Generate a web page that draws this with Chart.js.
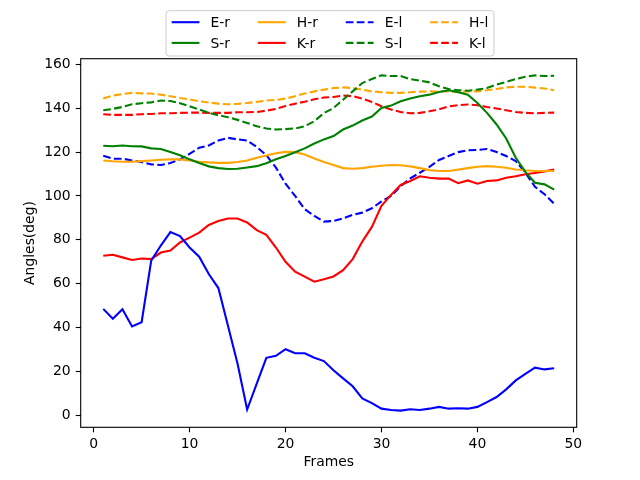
<!DOCTYPE html>
<html>
<head>
<meta charset="utf-8">
<script src="https://cdn.jsdelivr.net/npm/chart.js@4.4.1/dist/chart.umd.min.js"></script>
<style>html,body{margin:0;padding:0;background:#fff}</style>
</head>
<body>
<canvas id="c" width="640" height="480" style="width:640px;height:480px"></canvas>
<script>
// joint angles per frame
const frames = [1,2,3,4,5,6,7,8,9,10,11,12,13,14,15,16,17,18,19,20,21,22,23,24,25,26,27,28,29,30,31,32,33,34,35,36,37,38,39,40,41,42,43,44,45,46,47,48];

const eR = [48.5,44,48.3,40.5,42.4,70.5,77.4,83.5,81.7,76.5,72.3,64.4,58,40.8,23.5,2.6,14.4,26.2,27.1,30.1,28.3,28.3,26.2,24.7,20.5,16.8,13.2,7.7,5.5,3,2.4,2.1,2.7,2.4,3,3.8,3,3.2,3,3.8,6,8.3,11.8,15.9,18.9,21.7,20.9,21.4];
const sR = [122.9,122.7,123,122.7,122.6,121.7,121.4,120,118.6,116.7,115,113.5,112.7,112.3,112.4,113,113.6,114.9,116.7,118.2,119.9,121.7,123.9,125.8,127.3,130.3,132.1,134.4,136.2,140.1,141.2,143.2,144.4,145.5,146.2,147.4,148.2,147.3,146.2,142.4,137.9,132.6,126.2,117.4,111,106,105.3,102.9];
const hR = [116.2,115.8,115.6,115.6,115.9,116.2,116.5,116.7,116.7,116.2,115.6,115.3,115.1,115.1,115.5,116.2,117.4,118.5,119.5,120.1,120,118.9,117.1,115.5,114.1,112.7,112.4,112.7,113.3,113.8,114.1,114,113.5,112.7,111.8,111.4,111.4,112,112.7,113.3,113.6,113.3,112.9,112.1,111.7,111.4,111.4,111.4];
const kR = [72.7,73.2,72,70.8,71.5,71.2,74.2,75.1,78.8,81,83.3,86.8,88.6,89.7,89.7,87.9,84.4,82.3,76.5,70,65.5,63.2,60.9,62,63.3,66.2,71.2,79.2,85.9,95.5,100.5,105,106.8,109,108.3,107.9,107.9,105.8,107.1,105.6,106.8,107.1,108.3,109,109.9,110.5,111.2,112];
const eL = [118.3,117,117,116.2,115.5,114.4,114.1,115,116.7,119.2,122,123,125.3,126.5,125.8,125.3,122.3,118.6,112.9,105.6,100,94,90.9,88.3,88.6,89.8,91.4,92.4,94.4,97.5,100,104.5,108,110.6,113.3,116.4,118.2,120,120.8,121,121.4,120,118.2,115.9,110.6,104.2,100.8,96.5];
const sL = [139.1,139.7,140.6,141.8,142.3,142.7,143.5,143.3,142.3,140.9,139.4,137.9,136.8,135.9,134.7,133.3,131.8,130.8,130.3,130.5,130.8,131.8,134.1,137.8,140.1,143.9,147.7,151.5,153.3,155,154.7,154.7,153.3,152.6,151.8,150,148.8,148.2,148,148.5,149.2,150.8,152,153.3,154.4,155,154.7,154.8];
const hL = [144.5,145.8,146.5,147,146.8,146.7,146.2,145.5,144.7,144,143.2,142.6,142.1,141.8,142,142.4,142.9,143.5,143.8,144.4,145.5,146.7,147.7,148.5,149.2,149.5,149.2,148.5,147.7,147.3,147,147,147.3,147.6,147.7,147.6,147.7,147.4,147.7,147.7,148.2,148.8,149.5,149.8,149.8,149.4,149,148.2];
const kL = [137.3,137,137,137,137.3,137.4,137.7,137.7,137.9,138,138,137.9,137.9,137.9,138.2,138.2,138.3,138.9,139.7,141,142.1,143,144.1,144.9,145.1,145.8,145.5,144.4,142.9,140.9,139.4,138.3,137.7,137.9,138.6,139.5,140.8,141.4,141.7,141.4,140.6,139.9,139.1,138.3,137.9,137.7,137.9,138];

const xTicks = [0,10,20,30,40,50];
const yTicks = [0,20,40,60,80,100,120,140,160];

const FONT = "'DejaVu Sans', sans-serif";
const FS = 13.9;
const DASH = [7.7, 3.3];

function series(label, values, color, dashed) {
  return {
    label: label,
    data: frames.map((f, i) => ({x: f, y: values[i]})),
    borderColor: color,
    backgroundColor: color,
    borderWidth: 2.1,
    borderDash: dashed ? DASH : [],
    pointRadius: 0,
    tension: 0,
    fill: false
  };
}

// same order as the matplotlib legend (column-major, 4 columns)
const datasets = [
  series('E-r', eR, '#0000ff', false),
  series('S-r', sR, '#008000', false),
  series('H-r', hR, '#ffa500', false),
  series('K-r', kR, '#ff0000', false),
  series('E-l', eL, '#0000ff', true),
  series('S-l', sL, '#008000', true),
  series('H-l', hL, '#ffa500', true),
  series('K-l', kL, '#ff0000', true)
];

// axes box on all four sides
const frameBox = {
  id: 'frameBox',
  afterDatasetsDraw(chart) {
    const a = chart.chartArea, ctx = chart.ctx;
    ctx.save();
    ctx.strokeStyle = '#000';
    ctx.lineWidth = 1.1;
    ctx.setLineDash([]);
    ctx.strokeRect(a.left, a.top, a.right - a.left, a.bottom - a.top);
    ctx.restore();
  }
};

// legend drawn like matplotlib: ncol=4, upper center above the axes
const mplLegend = {
  id: 'mplLegend',
  afterDraw(chart) {
    const ctx = chart.ctx;
    const ds = chart.data.datasets;
    const ncol = 4, nrow = 2;
    const handle = 27.8, tpad = 11.1, cspace = 27.8, bpad = 5.6;
    ctx.save();
    ctx.font = FS + 'px ' + FONT;
    const colW = [];
    for (let c = 0; c < ncol; c++) {
      let w = 0;
      for (let r = 0; r < nrow; r++) {
        const d = ds[c * nrow + r];
        if (d) w = Math.max(w, ctx.measureText(d.label).width);
      }
      colW.push(handle + tpad + w);
    }
    const total = colW.reduce((s, w) => s + w, 0) + cspace * (ncol - 1) + 2 * bpad;
    const cx = 330;
    const left = cx - total / 2, top = 10.7, height = 45.3;
    // box
    ctx.beginPath();
    const rr = 3;
    ctx.moveTo(left + rr, top);
    ctx.arcTo(left + total, top, left + total, top + height, rr);
    ctx.arcTo(left + total, top + height, left, top + height, rr);
    ctx.arcTo(left, top + height, left, top, rr);
    ctx.arcTo(left, top, left + total, top, rr);
    ctx.closePath();
    ctx.fillStyle = 'rgba(255,255,255,0.8)';
    ctx.fill();
    ctx.strokeStyle = '#cccccc';
    ctx.lineWidth = 1;
    ctx.stroke();
    const rowY = [top + 11.5, top + 32.2];
    let x = left + bpad;
    for (let c = 0; c < ncol; c++) {
      for (let r = 0; r < nrow; r++) {
        const d = ds[c * nrow + r];
        if (!d) continue;
        const y = rowY[r];
        ctx.beginPath();
        ctx.setLineDash(d.borderDash || []);
        ctx.strokeStyle = d.borderColor;
        ctx.lineWidth = d.borderWidth;
        ctx.moveTo(x, y);
        ctx.lineTo(x + handle, y);
        ctx.stroke();
        ctx.setLineDash([]);
        ctx.fillStyle = '#000';
        ctx.textBaseline = 'middle';
        ctx.textAlign = 'left';
        ctx.fillText(d.label, x + handle + tpad, y + 1);
      }
      x += colW[c] + cspace;
    }
    ctx.restore();
  }
};

Chart.defaults.font.family = FONT;
Chart.defaults.font.size = FS;
Chart.defaults.color = '#000';

new Chart(document.getElementById('c'), {
  type: 'line',
  data: { datasets: datasets },
  plugins: [frameBox, mplLegend],
  options: {
    animation: false,
    responsive: false,
    devicePixelRatio: 1,
    layout: { padding: { left: 0, right: 63.3, top: 58.7, bottom: 0 } },
    plugins: { legend: { display: false }, tooltip: { enabled: false } },
    scales: {
      x: {
        type: 'linear',
        min: -1.35,
        max: 50.35,
        afterBuildTicks: s => { s.ticks = xTicks.map(v => ({value: v})); },
        afterFit: s => { s.height = 52.7; },
        grid: { display: true, drawOnChartArea: false, drawTicks: true, tickLength: 5, tickWidth: 1.1, tickColor: '#000' },
        border: { display: false },
        ticks: { padding: 4, maxRotation: 0, autoSkip: false, color: '#000' },
        title: { display: true, text: 'Frames', color: '#000', padding: { top: 0, bottom: 9.5 } }
      },
      y: {
        type: 'linear',
        min: -5.5,
        max: 162.6,
        afterBuildTicks: s => { s.ticks = yTicks.map(v => ({value: v})); },
        afterFit: s => { s.width = 80.7; },
        grid: { display: true, drawOnChartArea: false, drawTicks: true, tickLength: 5, tickWidth: 1.1, tickColor: '#000' },
        border: { display: false },
        ticks: { padding: 5, autoSkip: false, color: '#000' },
        title: { display: true, text: 'Angles(deg)', color: '#000', padding: { top: 22.5, bottom: 0 } }
      }
    }
  }
});
</script>
</body>
</html>
